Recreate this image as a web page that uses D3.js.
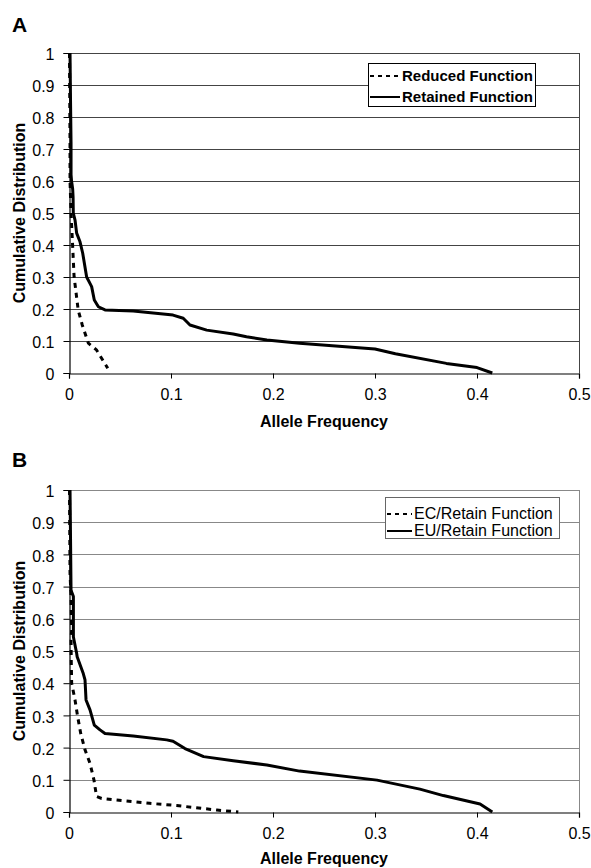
<!DOCTYPE html>
<html>
<head>
<meta charset="utf-8">
<script src="https://cdn.jsdelivr.net/npm/d3@7/dist/d3.min.js"></script>
<style>
  html, body { margin: 0; padding: 0; background: #fff; }
  svg { display: block; font-family: "Liberation Sans", Arial, sans-serif; }
</style>
</head>
<body>
<svg id="chart" width="591" height="868"></svg>
<script>
// Axis ticks shared by both panels
const xTicks = [0, 0.1, 0.2, 0.3, 0.4, 0.5];
const xTickLabels = ["0", "0.1", "0.2", "0.3", "0.4", "0.5"];
const yTicks = [0, 0.1, 0.2, 0.3, 0.4, 0.5, 0.6, 0.7, 0.8, 0.9, 1];
const yTickLabels = ["0", "0.1", "0.2", "0.3", "0.4", "0.5", "0.6", "0.7", "0.8", "0.9", "1"];

// Panel A: reduced vs retained function (allele frequency, cumulative distribution)
const reducedFreq = [0.0005, 0.001, 0.001, 0.002, 0.0036, 0.005, 0.006, 0.009, 0.013, 0.019, 0.027, 0.038];
const reducedCdf  = [1.0, 0.72, 0.60, 0.50, 0.395, 0.30, 0.275, 0.197, 0.15, 0.093, 0.072, 0.015];

const retainedFreq = [0.001, 0.0015, 0.002, 0.002, 0.0025, 0.0036, 0.004, 0.0042, 0.0059, 0.0075, 0.0108, 0.0134, 0.0173,
  0.0222, 0.0248, 0.0288, 0.0353, 0.063, 0.102, 0.112, 0.1186, 0.135, 0.161, 0.174, 0.194, 0.226, 0.3, 0.32, 0.37, 0.40, 0.415];
const retainedCdf  = [1.0, 0.85, 0.72, 0.62, 0.60, 0.575, 0.55, 0.50, 0.478, 0.437, 0.41, 0.375, 0.30,
  0.27, 0.228, 0.207, 0.197, 0.194, 0.181, 0.171, 0.15, 0.134, 0.122, 0.113, 0.103, 0.093, 0.075, 0.06, 0.03, 0.017, 0.0];

// Panel B: EC vs EU retained function
const ecFreq = [0.0005, 0.001, 0.002, 0.0026, 0.002, 0.0022, 0.0026, 0.0059, 0.0085, 0.0115, 0.0157, 0.0206, 0.0245,
  0.027, 0.032, 0.0468, 0.079, 0.1056, 0.145, 0.166];
const ecCdf  = [1.0, 0.742, 0.669, 0.565, 0.534, 0.472, 0.40, 0.348, 0.296, 0.244, 0.193, 0.151, 0.099,
  0.048, 0.042, 0.037, 0.027, 0.02, 0.006, 0.0];

const euFreq = [0.001, 0.0015, 0.002, 0.0043, 0.0043, 0.0049, 0.0075, 0.008, 0.014, 0.0157, 0.0167, 0.0206, 0.0248,
  0.0304, 0.0353, 0.063, 0.0958, 0.102, 0.1137, 0.132, 0.161, 0.194, 0.226, 0.302, 0.344, 0.367, 0.403, 0.415];
const euCdf  = [1.0, 0.85, 0.689, 0.669, 0.544, 0.534, 0.493, 0.482, 0.43, 0.41, 0.348, 0.317, 0.27,
  0.255, 0.244, 0.236, 0.224, 0.22, 0.197, 0.172, 0.159, 0.146, 0.127, 0.099, 0.071, 0.051, 0.025, 0.0];

const svg = d3.select("#chart");
svg.append("rect").attr("width", 591).attr("height", 868).attr("fill", "#fff");

function zip(xs, ys) { return xs.map((x, i) => ({ x: x, y: ys[i] })); }

function drawPanel(p) {
  const x = d3.scaleLinear().domain([0, 0.5]).range([69, 579]);
  const y = d3.scaleLinear().domain([0, 1]).range([p.bottom, p.top]);
  const g = svg.append("g");

  // horizontal gridlines
  g.selectAll("line.grid").data(yTicks.filter(d => d > 0)).join("line")
    .attr("x1", x(0)).attr("x2", x(0.5))
    .attr("y1", d => Math.round(y(d)) + 0.5).attr("y2", d => Math.round(y(d)) + 0.5)
    .attr("stroke", p.gridColor).attr("stroke-width", 1);

  // right border of plot area
  g.append("line")
    .attr("x1", x(0.5) + 0.5).attr("x2", x(0.5) + 0.5)
    .attr("y1", y(1)).attr("y2", y(0))
    .attr("stroke", p.gridColor).attr("stroke-width", 1);

  // y axis
  const yAxis = d3.axisLeft(y).tickValues(yTicks).tickSize(6).tickPadding(9)
    .tickFormat((d, i) => yTickLabels[i]);
  const ya = g.append("g").attr("transform", "translate(" + (x(0) + 0.5) + ",0)").call(yAxis);
  ya.select(".domain").attr("stroke", "#000").attr("stroke-width", 1.2);
  ya.selectAll(".tick line").attr("stroke", "#000");
  ya.selectAll(".tick text").attr("font-size", 16).attr("fill", "#000")
    .attr("font-family", "'Liberation Sans', Arial, sans-serif").attr("dy", "0.42em");

  // x axis
  const xAxis = d3.axisBottom(x).tickValues(xTicks).tickSize(5).tickPadding(10)
    .tickFormat((d, i) => xTickLabels[i]);
  const xa = g.append("g").attr("transform", "translate(0," + (Math.round(y(0)) + 0.5) + ")").call(xAxis);
  xa.select(".domain").attr("stroke", "#000").attr("stroke-width", 1.2);
  xa.selectAll(".tick line").attr("stroke", "#000");
  xa.selectAll(".tick text").attr("font-size", 16).attr("fill", "#000")
    .attr("font-family", "'Liberation Sans', Arial, sans-serif");

  const line = d3.line().x(d => x(d.x)).y(d => y(d.y));

  // dashed series first, solid drawn on top
  g.append("path").datum(zip(p.dashed.freq, p.dashed.cdf))
    .attr("d", line).attr("fill", "none").attr("stroke", "#000")
    .attr("stroke-width", 3).attr("stroke-dasharray", "5,5");
  g.append("path").datum(zip(p.solid.freq, p.solid.cdf))
    .attr("d", line).attr("fill", "none").attr("stroke", "#000")
    .attr("stroke-width", 3).attr("stroke-linejoin", "round");

  // axis titles
  g.append("text").attr("x", 324).attr("y", p.xTitleY).attr("text-anchor", "middle")
    .attr("font-size", 16).attr("font-weight", "bold").text("Allele Frequency");
  g.append("text").attr("transform", "translate(25," + ((p.top + p.bottom) / 2) + ") rotate(-90)")
    .attr("text-anchor", "middle").attr("font-size", 16).attr("font-weight", "bold")
    .text("Cumulative Distribution");

  // panel letter
  g.append("text").attr("x", 12).attr("y", p.letterY).attr("font-size", 21)
    .attr("font-weight", "bold").text(p.letter);

  // legend
  const L = p.legend;
  const lg = g.append("g");
  lg.append("rect").attr("x", L.x + 0.5).attr("y", L.y + 0.5).attr("width", L.w).attr("height", L.h)
    .attr("fill", "#fff").attr("stroke", L.border).attr("stroke-width", 1);
  const entries = [
    { label: p.dashed.label, dash: "4,4", off: L.row1 },
    { label: p.solid.label, dash: null, off: L.row2 }
  ];
  entries.forEach(e => {
    lg.append("line").attr("x1", L.x + 2).attr("x2", L.x + L.sample)
      .attr("y1", L.y + e.off - L.lineLift).attr("y2", L.y + e.off - L.lineLift)
      .attr("stroke", "#000").attr("stroke-width", 2)
      .attr("stroke-dasharray", e.dash);
    lg.append("text").attr("x", L.x + L.sample + 2).attr("y", L.y + e.off)
      .attr("font-size", L.fontSize).attr("font-weight", L.weight).text(e.label);
  });
}

drawPanel({
  letter: "A", letterY: 32, top: 53, bottom: 373, xTitleY: 427, gridColor: "#444",
  dashed: { freq: reducedFreq, cdf: reducedCdf, label: "Reduced Function" },
  solid: { freq: retainedFreq, cdf: retainedCdf, label: "Retained Function" },
  legend: { x: 368, y: 63, w: 167, h: 43, row1: 18, row2: 39, sample: 32, lineLift: 5,
            fontSize: 15, weight: "bold", border: "#000" }
});

drawPanel({
  letter: "B", letterY: 467, top: 490, bottom: 812, xTitleY: 864, gridColor: "#888",
  dashed: { freq: ecFreq, cdf: ecCdf, label: "EC/Retain Function" },
  solid: { freq: euFreq, cdf: euCdf, label: "EU/Retain Function" },
  legend: { x: 385, y: 497, w: 174, h: 41, row1: 22, row2: 39, sample: 27, lineLift: 5,
            fontSize: 16, weight: "normal", border: "#666" }
});
</script>
</body>
</html>
